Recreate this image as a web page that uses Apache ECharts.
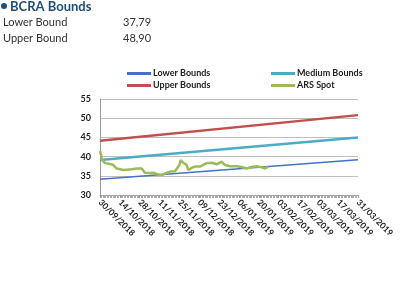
<!DOCTYPE html>
<html lang="en">
<head>
    <meta charset="UTF-8">
    <title>BCRA Bounds</title>
    <script src="https://cdn.jsdelivr.net/npm/echarts@6/dist/echarts.min.js"></script>
    <style>
        html, body { margin: 0; padding: 0; background: #ffffff; }
        #chart { width: 406px; height: 281px; }
    </style>
</head>
<body>
<div id="chart"></div>
<script>
    // dias desde 30/09/2018
    var startDate = new Date(2018, 8, 30);
    var boundDays = [0, 182];
    var lowerBounds = [34.1, 39.2];
    var mediumBounds = [39.1, 45.0];
    var upperBounds = [44.1, 50.8];

    var spotDays = [0, 1.6, 3.5, 7, 9.4, 11.8, 16.5, 18.8, 22.3, 25.9, 29.4, 31.7, 35.3, 37.6, 40, 43.5,
        45.9, 49.4, 52.9, 54.1, 56, 56.9, 58.8, 61.1, 62.3, 64.7, 67, 70.5, 75.3, 78.8, 82.3, 85.8,
        88.2, 91.7, 96.4, 99.9, 103.5, 107, 110.5, 114.1, 116.4, 118.7];
    var spotValues = [41.5, 39.1, 38.3, 38.1, 37.8, 36.9, 36.5, 36.6, 36.7, 36.9, 36.9, 35.8, 35.7, 35.8, 35.5, 35.2,
        35.6, 36.1, 36.2, 36.6, 37.8, 39.1, 38.4, 37.8, 36.5, 37.1, 37.4, 37.4, 38.3, 38.4, 38.0, 38.7,
        37.8, 37.5, 37.5, 37.3, 36.9, 37.3, 37.5, 37.2, 36.9, 37.4];

    var headerLabels = ['Lower Bound', 'Upper Bound'];
    var headerValues = ['37,79', '48,90'];

    function pairs(xs, ys) {
        return xs.map(function (x, i) { return [x, ys[i]]; });
    }
    function fmtDay(d) {
        var dt = new Date(startDate.getTime());
        dt.setDate(dt.getDate() + Math.round(d));
        var dd = ('0' + dt.getDate()).slice(-2);
        var mm = ('0' + (dt.getMonth() + 1)).slice(-2);
        return dd + '/' + mm + '/' + dt.getFullYear();
    }

    var myChart = echarts.init(document.getElementById('chart'));
    var font = 'Lato, "Open Sans", sans-serif';
    var legendText = { fontSize: 9, fontWeight: 'bold', color: '#222', padding: [0, 0, 0, -3] };
    var option = {
        animation: false,
        textStyle: { fontFamily: font },
        graphic: [
            { type: 'circle', left: 1, top: 3, shape: { r: 3 }, style: { fill: '#1f4e79' } },
            { type: 'text', left: 10, top: 0, style: { text: 'BCRA Bounds', fill: '#1f4e79', font: 'bold 13px ' + font } },
            { type: 'text', left: 3, top: 17, style: { text: headerLabels[0], fill: '#333333', font: '11px ' + font } },
            { type: 'text', left: 123, top: 17, style: { text: headerValues[0], fill: '#333333', font: '11px ' + font } },
            { type: 'text', left: 3, top: 33, style: { text: headerLabels[1], fill: '#333333', font: '11px ' + font } },
            { type: 'text', left: 123, top: 33, style: { text: headerValues[1], fill: '#333333', font: '11px ' + font } }
        ],
        legend: [{
            left: 127, top: 69, orient: 'vertical', itemGap: 3, padding: 0,
            itemWidth: 24, itemHeight: 3, icon: 'rect',
            textStyle: legendText,
            data: ['Lower Bounds', 'Upper Bounds']
        }, {
            left: 271, top: 69, orient: 'vertical', itemGap: 3, padding: 0,
            itemWidth: 24, itemHeight: 3, icon: 'rect',
            textStyle: legendText,
            data: ['Medium Bounds', 'ARS Spot']
        }],
        grid: { left: 100, right: 48, top: 99, bottom: 86 },
        xAxis: {
            type: 'value', min: 0, max: 182, interval: 14,
            axisLine: { lineStyle: { color: '#999' } },
            axisTick: { show: true, length: 3, lineStyle: { color: '#999' } },
            minorTick: { show: true, splitNumber: 14, length: 3, lineStyle: { color: '#aaa' } },
            splitLine: { show: false },
            axisLabel: {
                rotate: -45, fontSize: 8.5, fontWeight: 'bold', color: '#222', margin: 6,
                formatter: fmtDay
            }
        },
        yAxis: {
            type: 'value', min: 30, max: 55, interval: 5,
            axisLine: { show: true, lineStyle: { color: '#999' } },
            axisTick: { show: false },
            splitLine: { lineStyle: { color: '#bfbfbf' } },
            axisLabel: { fontSize: 9, fontWeight: 'bold', color: '#222', margin: 9 }
        },
        series: [
            { name: 'Lower Bounds', type: 'line', showSymbol: false, data: pairs(boundDays, lowerBounds),
              itemStyle: { color: '#4472c4' }, lineStyle: { width: 1.5, color: '#4472c4' } },
            { name: 'Upper Bounds', type: 'line', showSymbol: false, data: pairs(boundDays, upperBounds),
              itemStyle: { color: '#c0504d' }, lineStyle: { width: 2.5, color: '#c0504d' } },
            { name: 'Medium Bounds', type: 'line', showSymbol: false, data: pairs(boundDays, mediumBounds),
              itemStyle: { color: '#4bacc6' }, lineStyle: { width: 2.5, color: '#4bacc6' } },
            { name: 'ARS Spot', type: 'line', showSymbol: false, data: pairs(spotDays, spotValues),
              itemStyle: { color: '#9bbb59' }, lineStyle: { width: 2.5, color: '#9bbb59' } }
        ]
    };
    myChart.setOption(option);
</script>
</body>
</html>
